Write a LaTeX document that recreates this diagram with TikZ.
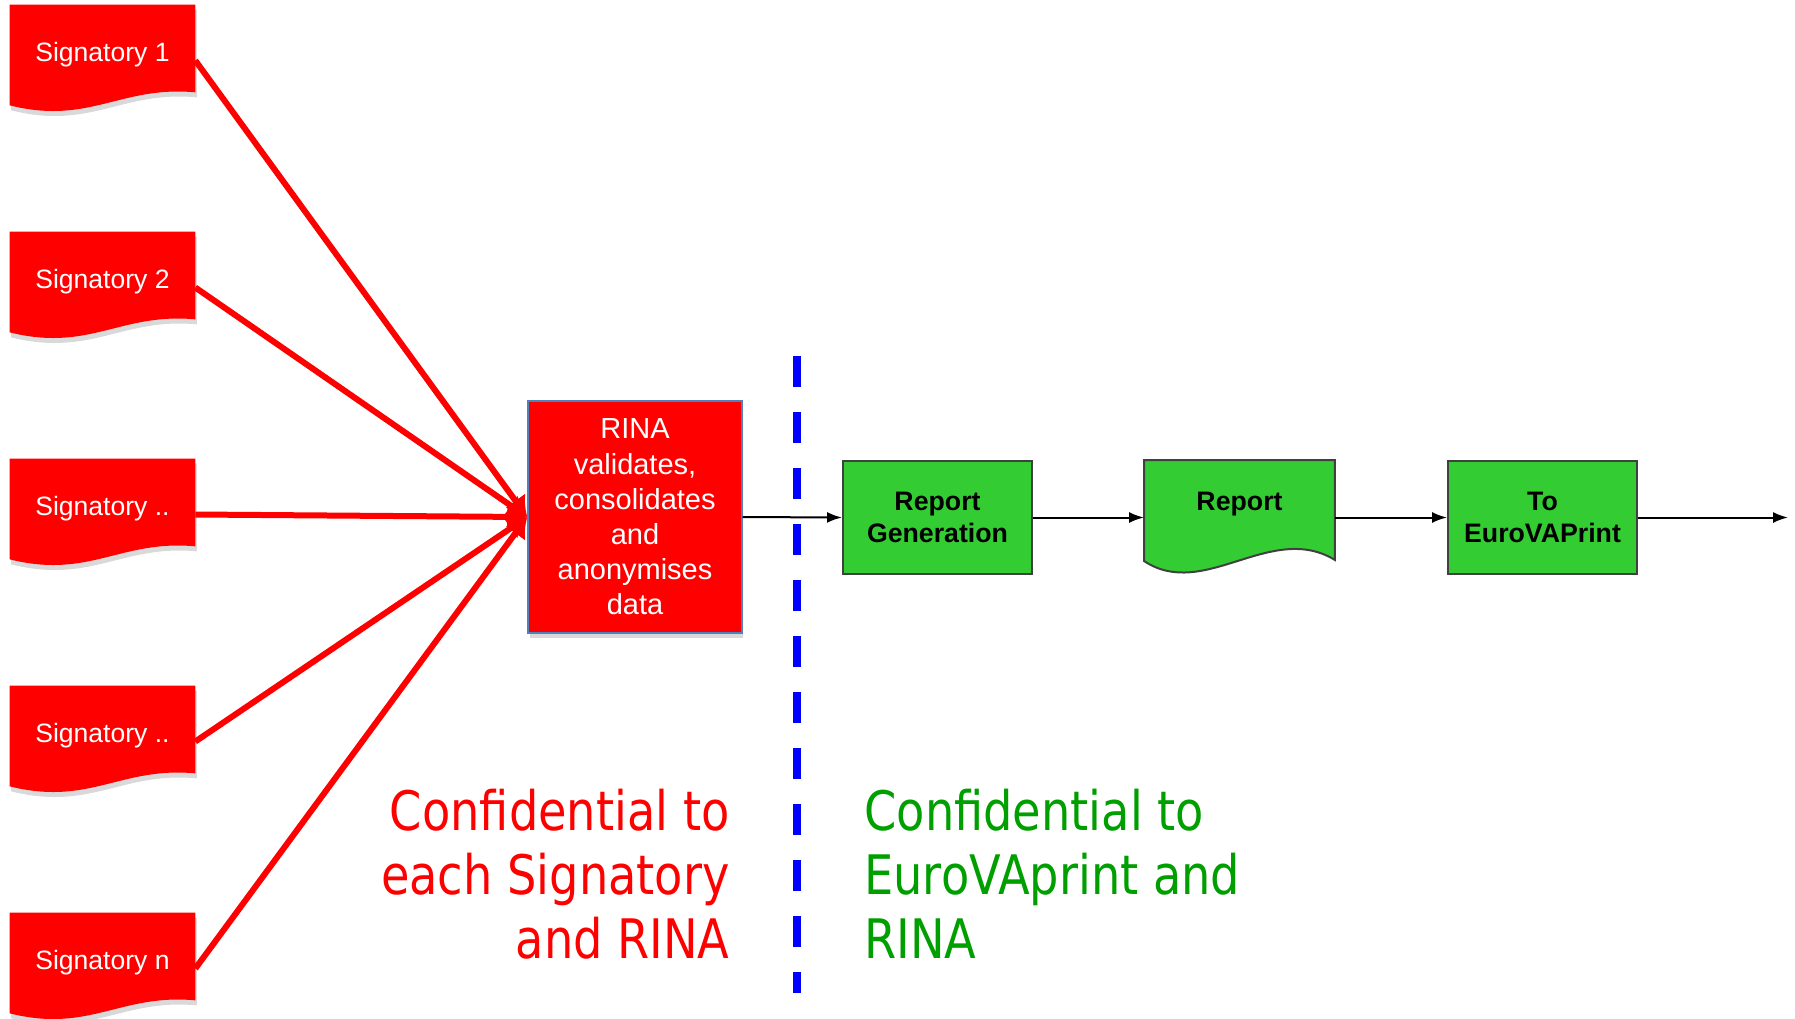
\documentclass[tikz,border=0pt]{standalone}
\usepackage{fontspec}
\setmainfont{Liberation Sans}
\newfontfamily\confont[FakeStretch=0.85]{DejaVu Sans}
\usepackage{xcolor}
\usepackage{tikz}
\usetikzlibrary{positioning,calc,arrows.meta,shadows,backgrounds}
\definecolor{boxgreen}{HTML}{33CC33}
\definecolor{textgreen}{HTML}{009F00}
\definecolor{rinaedge}{HTML}{4F81BD}

\begin{document}
\begin{tikzpicture}[x=0.02cm, y=-0.02cm,
    sigbox/.style={minimum width=3.7cm, minimum height=1.74cm, inner sep=0pt, text height=0.63cm, text=white, font=\fontsize{15.1}{17}\selectfont},
    sigfill/.style={fill=red, drop shadow={shadow xshift=0.03cm, shadow yshift=-0.1cm, opacity=0.3}},
    redarrow/.style={red, line width=0.12cm, -{Latex[length=0.4cm, width=0.5cm]}},
    greenbox/.style={draw=black!75, line width=0.04cm, fill=boxgreen, minimum width=3.78cm, minimum height=2.26cm, align=center, font=\bfseries\fontsize{15.2}{18}\selectfont},
    flowarrow/.style={line width=0.04cm, -{Latex[length=0.3cm, width=0.22cm]}},
    conftext/.style={inner sep=0pt, font=\confont\fontsize{31}{36.3}\selectfont}]
    \useasboundingbox (0,0) rectangle (1795,1018);

    % signatories
    \foreach \i/\lab in {1/1,2/2,3/..,4/..,5/n}
    {
        \node[sigbox] (sig\i) at (102.5,{48.5+227*(\i-1)}) {Signatory \lab};
        \begin{pgfonlayer}{background}
            \path[sigfill] (sig\i.north west) -- (sig\i.north east) -- (sig\i.south east)
                .. controls ($(sig\i.south east)+(-75,-7)$) and ($(sig\i.south west)+(80,33)$) .. ($(sig\i.south west)+(0,13)$) -- cycle;
        \end{pgfonlayer}
    }

    \node[draw=rinaedge, line width=0.03cm, fill=red, text=white, minimum width=4.28cm, minimum height=4.64cm, align=center,
        font=\fontsize{16.5}{20}\selectfont, drop shadow={shadow xshift=0.03cm, shadow yshift=-0.1cm, opacity=0.3}]
        (rina) at (635,517) {RINA\\validates,\\consolidates\\and\\anonymises\\data};

    \foreach \i in {1,...,5}
        \draw[redarrow] ([yshift=-0.24cm]sig\i.east) -- (rina.west);

    % green chain
    \node[greenbox] (repgen) at (937.5,517.5) {Report\\Generation};
    \node[greenbox, draw=none, fill=none, text depth=0.66cm] (rep) at (1239.5,517.5) {Report};
    \begin{pgfonlayer}{background}
        \draw[draw=black!75, line width=0.04cm, fill=boxgreen] (rep.north west) -- (rep.north east) -- ($(rep.south east)+(0,-15)$)
            .. controls ($(rep.south east)+(-64,-54)$) and ($(rep.south west)+(60,26)$) .. ($(rep.south west)+(0,-14)$) -- cycle;
    \end{pgfonlayer}
    \node[greenbox] (toev) at (1542.5,517.5) {To\\EuroVAPrint};
    \coordinate (sink) at (1788,517.5);

    \draw[flowarrow] (rina.east) -- (repgen.west);
    \draw[flowarrow] (repgen.east) -- (rep.west);
    \draw[flowarrow] (rep.east) -- (toev.west);
    \draw[flowarrow] (toev.east) -- (sink);

    \draw[blue, line width=0.16cm, dash pattern=on 0.62cm off 0.5cm] (797,356) -- (797,993);

    \node[conftext, anchor=east, align=right, text=red] (confleft) at (730,874) {Confidential to\\each Signatory\\and RINA};
    \node[conftext, anchor=west, align=left, text=textgreen] (confright) at (864,874) {Confidential to\\EuroVAprint and\\RINA};
\end{tikzpicture}
\end{document}
